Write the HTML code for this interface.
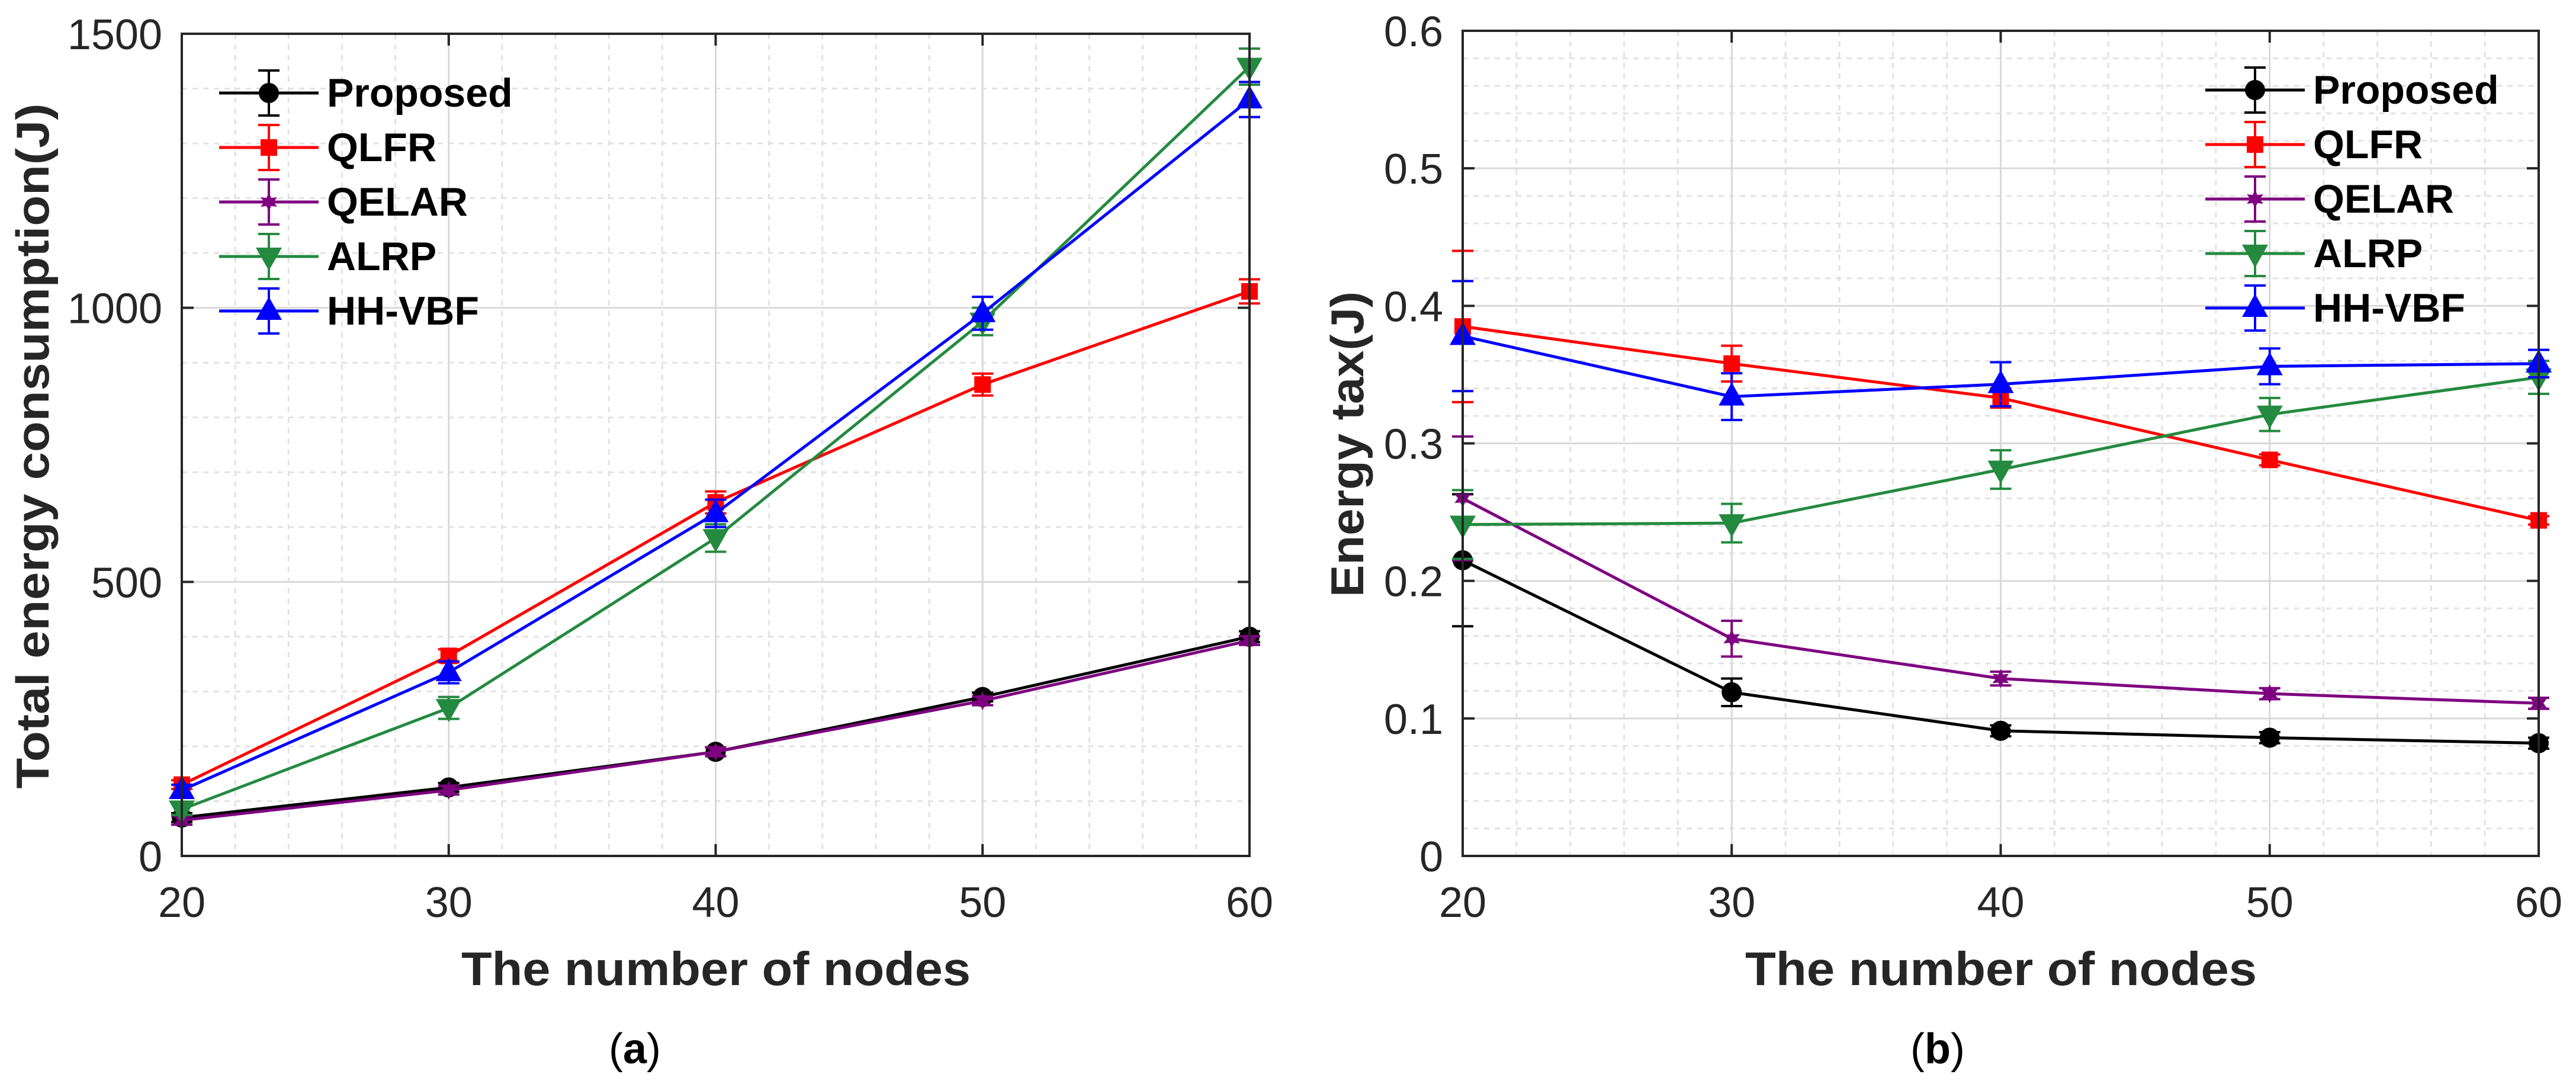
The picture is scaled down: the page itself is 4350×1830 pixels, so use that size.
<!DOCTYPE html>
<html><head><meta charset="utf-8">
<style>
html,body{margin:0;padding:0;background:#fff;}
svg{display:block;}
text{font-family:"Liberation Sans",sans-serif;}
</style></head>
<body>
<svg id="fig" width="4350" height="1830" viewBox="0 0 4350 1830" xmlns="http://www.w3.org/2000/svg">
<rect x="0" y="0" width="4350" height="1830" fill="#fff"/>
</svg>
<script>
// ---- shared data ----
const nodes = [20, 30, 40, 50, 60];
const seriesNames = ["Proposed", "QLFR", "QELAR", "ALRP", "HH-VBF"];
const xTicks = [20, 30, 40, 50, 60];

// panel (a): total energy consumption
const aProposed = [70, 125, 190, 290, 400];
const aQLFR = [130, 365, 645, 860, 1030];
const aQELAR = [65, 120, 190, 283, 393];
const aALRP = [85, 270, 580, 975, 1440];
const aHHVBF = [120, 335, 625, 990, 1380];
const aErrProposed = [8, 8, 8, 8, 10];
const aErrQLFR = [8, 12, 20, 20, 22];
const aErrQELAR = [8, 8, 8, 8, 8];
const aErrALRP = [10, 20, 25, 25, 33];
const aErrHHVBF = [10, 20, 25, 30, 32];
const aYTicks = [0, 500, 1000, 1500];

// panel (b): energy tax
const bProposed = [0.215, 0.119, 0.091, 0.086, 0.082];
const bQLFR = [0.385, 0.358, 0.333, 0.288, 0.244];
const bQELAR = [0.260, 0.158, 0.129, 0.118, 0.111];
const bALRP = [0.241, 0.242, 0.281, 0.321, 0.348];
const bHHVBF = [0.378, 0.334, 0.343, 0.356, 0.358];
const bErrProposed = [0.048, 0.010, 0.004, 0.004, 0.004];
const bErrQLFR = [0.055, 0.013, 0.007, 0.004, 0.003];
const bErrQELAR = [0.045, 0.013, 0.005, 0.004, 0.004];
const bErrALRP = [0.025, 0.014, 0.014, 0.012, 0.012];
const bErrHHVBF = [0.040, 0.017, 0.016, 0.013, 0.010];
const bYTicks = [0, 0.1, 0.2, 0.3, 0.4, 0.5, 0.6];

const NS = "http://www.w3.org/2000/svg";
const svg = document.getElementById("fig");
const colors = ["#000000", "#ff0000", "#7e0080", "#248a3f", "#0000ff"];
const markers = ["circle", "square", "star", "tridown", "triup"];

function mk(tag, attrs, parent) {
  const e = document.createElementNS(NS, tag);
  for (const k in attrs) e.setAttribute(k, attrs[k]);
  (parent || svg).appendChild(e);
  return e;
}

function drawMarker(g, type, cx, cy, color) {
  let e;
  if (type === "circle") e = mk("circle", {cx: cx, cy: cy, r: 17, fill: color}, g);
  else if (type === "square") e = mk("rect", {x: cx - 14, y: cy - 14, width: 28, height: 28, fill: color}, g);
  else if (type === "triup") e = mk("polygon", {points: `${cx},${cy-24} ${cx+22},${cy+15} ${cx-22},${cy+15}`, fill: color}, g);
  else if (type === "tridown") e = mk("polygon", {points: `${cx},${cy+24} ${cx+22},${cy-15} ${cx-22},${cy-15}`, fill: color}, g);
  else {
    let pts = [];
    for (let i = 0; i < 12; i++) {
      const r = i % 2 === 0 ? 16 : 8;
      const a = Math.PI * i / 6 - Math.PI / 2;
      pts.push((cx + r * Math.cos(a)).toFixed(1) + "," + (cy + r * Math.sin(a)).toFixed(1));
    }
    e = mk("polygon", {points: pts.join(" "), fill: color}, g);
  }
  
  
}

function drawErr(g, cx, yTop, yBot, color) {
  mk("line", {x1: cx, y1: yTop, x2: cx, y2: yBot, stroke: color, "stroke-width": 4}, g);
  mk("line", {x1: cx - 18, y1: yTop, x2: cx + 18, y2: yTop, stroke: color, "stroke-width": 4}, g);
  mk("line", {x1: cx - 18, y1: yBot, x2: cx + 18, y2: yBot, stroke: color, "stroke-width": 4}, g);
}

function panel(cfg) {
  const {L, R, T, B, ymax, yTicks, yMinorStep, series, errs, legX, legY, yFmt, name} = cfg;
  const g = mk("g", {});
  
  
  const xs = v => L + (v - 20) / 40 * (R - L);
  const ys = v => B - v / ymax * (B - T);
  // minor grid
  const grid = mk("g", {}, g);
  
  
  for (let v = 20; v <= 60.001; v += 2) {
    if (Math.abs(v % 10) < 0.01) continue;
    mk("line", {x1: xs(v), y1: T, x2: xs(v), y2: B, stroke: "#e2e2e2", "stroke-width": 3, "stroke-dasharray": "9 9"}, grid);
  }
  const nMinor = Math.round(ymax / yMinorStep);
  for (let i = 1; i < nMinor; i++) {
    if (i % 5 === 0) continue;
    const y = ys(i * yMinorStep);
    mk("line", {x1: L, y1: y, x2: R, y2: y, stroke: "#e2e2e2", "stroke-width": 3, "stroke-dasharray": "9 9"}, grid);
  }
  // major grid
  xTicks.forEach(v => mk("line", {x1: xs(v), y1: T, x2: xs(v), y2: B, stroke: "#d9d9d9", "stroke-width": 3}, grid));
  yTicks.forEach(v => mk("line", {x1: L, y1: ys(v), x2: R, y2: ys(v), stroke: "#d9d9d9", "stroke-width": 3}, grid));
  // ticks
  xTicks.forEach(v => {
    mk("line", {x1: xs(v), y1: B, x2: xs(v), y2: B - 20, stroke: "#262626", "stroke-width": 4}, g);
    mk("line", {x1: xs(v), y1: T, x2: xs(v), y2: T + 20, stroke: "#262626", "stroke-width": 4}, g);
    const t = mk("text", {x: xs(v), y: B + 103, "text-anchor": "middle", "font-size": 72, fill: "#262626"}, g);
    t.textContent = v;
    
    
  });
  yTicks.forEach(v => {
    mk("line", {x1: L, y1: ys(v), x2: L + 20, y2: ys(v), stroke: "#262626", "stroke-width": 4}, g);
    mk("line", {x1: R, y1: ys(v), x2: R - 20, y2: ys(v), stroke: "#262626", "stroke-width": 4}, g);
    const t = mk("text", {x: L - 33, y: ys(v) + 26, "text-anchor": "end", "font-size": 72, fill: "#262626"}, g);
    t.textContent = yFmt(v);
    
    
  });
  // series
  series.forEach((vals, si) => {
    const sg = mk("g", {}, g);
    
    
    const pts = vals.map((v, i) => xs(nodes[i]) + "," + ys(v)).join(" ");
    mk("polyline", {points: pts, fill: "none", stroke: colors[si], "stroke-width": 5, "stroke-linejoin": "round"}, sg);
    vals.forEach((v, i) => {
      drawErr(sg, xs(nodes[i]), ys(v + errs[si][i]), ys(v - errs[si][i]), colors[si]);
      drawMarker(sg, markers[si], xs(nodes[i]), ys(v), colors[si]);
    });
  });
  // axes box
  const box = mk("rect", {x: L, y: T, width: R - L, height: B - T, fill: "none", stroke: "#262626", "stroke-width": 4}, g);
  
  
  // legend
  const lg = mk("g", {}, g);
  
  
  seriesNames.forEach((n, si) => {
    const y = legY + si * 92;
    const eg = mk("g", {}, lg);
    
    
    mk("line", {x1: legX, y1: y, x2: legX + 168, y2: y, stroke: colors[si], "stroke-width": 5}, eg);
    drawErr(eg, legX + 84, y - 38, y + 38, colors[si]);
    drawMarker(eg, markers[si], legX + 84, y, colors[si]);
    const t = mk("text", {x: legX + 182, y: y + 23, "font-size": 68, "font-weight": "bold", fill: "#000"}, eg);
    t.textContent = n;
  });
}

panel({name: "chart-a", L: 307, R: 2110, T: 57, B: 1445, ymax: 1500, yTicks: aYTicks, yMinorStep: 100,
  series: [aProposed, aQLFR, aQELAR, aALRP, aHHVBF],
  errs: [aErrProposed, aErrQLFR, aErrQELAR, aErrALRP, aErrHHVBF],
  legX: 370, legY: 157, yFmt: v => String(v)});
panel({name: "chart-b", L: 2470, R: 4287, T: 52, B: 1445, ymax: 0.6, yTicks: bYTicks, yMinorStep: 0.02,
  series: [bProposed, bQLFR, bQELAR, bALRP, bHHVBF],
  errs: [bErrProposed, bErrQLFR, bErrQELAR, bErrALRP, bErrHHVBF],
  legX: 3724, legY: 152, yFmt: v => v === 0 ? "0" : v.toFixed(1)});
</script>
<svg style="position:absolute;left:0;top:0" width="4350" height="1830" viewBox="0 0 4350 1830" xmlns="http://www.w3.org/2000/svg">
  <text x="0" y="0" transform="translate(82,753) rotate(-90)" text-anchor="middle" font-family="Liberation Sans, sans-serif" font-weight="bold" font-size="78" fill="#262626" textLength="1157" lengthAdjust="spacingAndGlyphs">Total energy consumption(J)</text>
  <text x="1209" y="1663" text-anchor="middle" font-family="Liberation Sans, sans-serif" font-weight="bold" font-size="80" fill="#262626" textLength="860" lengthAdjust="spacingAndGlyphs">The number of nodes</text>
  <text x="1072" y="1795" text-anchor="middle" font-family="Liberation Serif, serif" font-size="72" fill="#000">(<tspan font-weight="bold">a</tspan>)</text>
  <text x="0" y="0" transform="translate(2302,750) rotate(-90)" text-anchor="middle" font-family="Liberation Sans, sans-serif" font-weight="bold" font-size="78" fill="#262626" textLength="516" lengthAdjust="spacingAndGlyphs">Energy tax(J)</text>
  <text x="3379" y="1663" text-anchor="middle" font-family="Liberation Sans, sans-serif" font-weight="bold" font-size="80" fill="#262626" textLength="864" lengthAdjust="spacingAndGlyphs">The number of nodes</text>
  <text x="3272" y="1795" text-anchor="middle" font-family="Liberation Serif, serif" font-size="72" fill="#000">(<tspan font-weight="bold">b</tspan>)</text>
</svg>
</body></html>
